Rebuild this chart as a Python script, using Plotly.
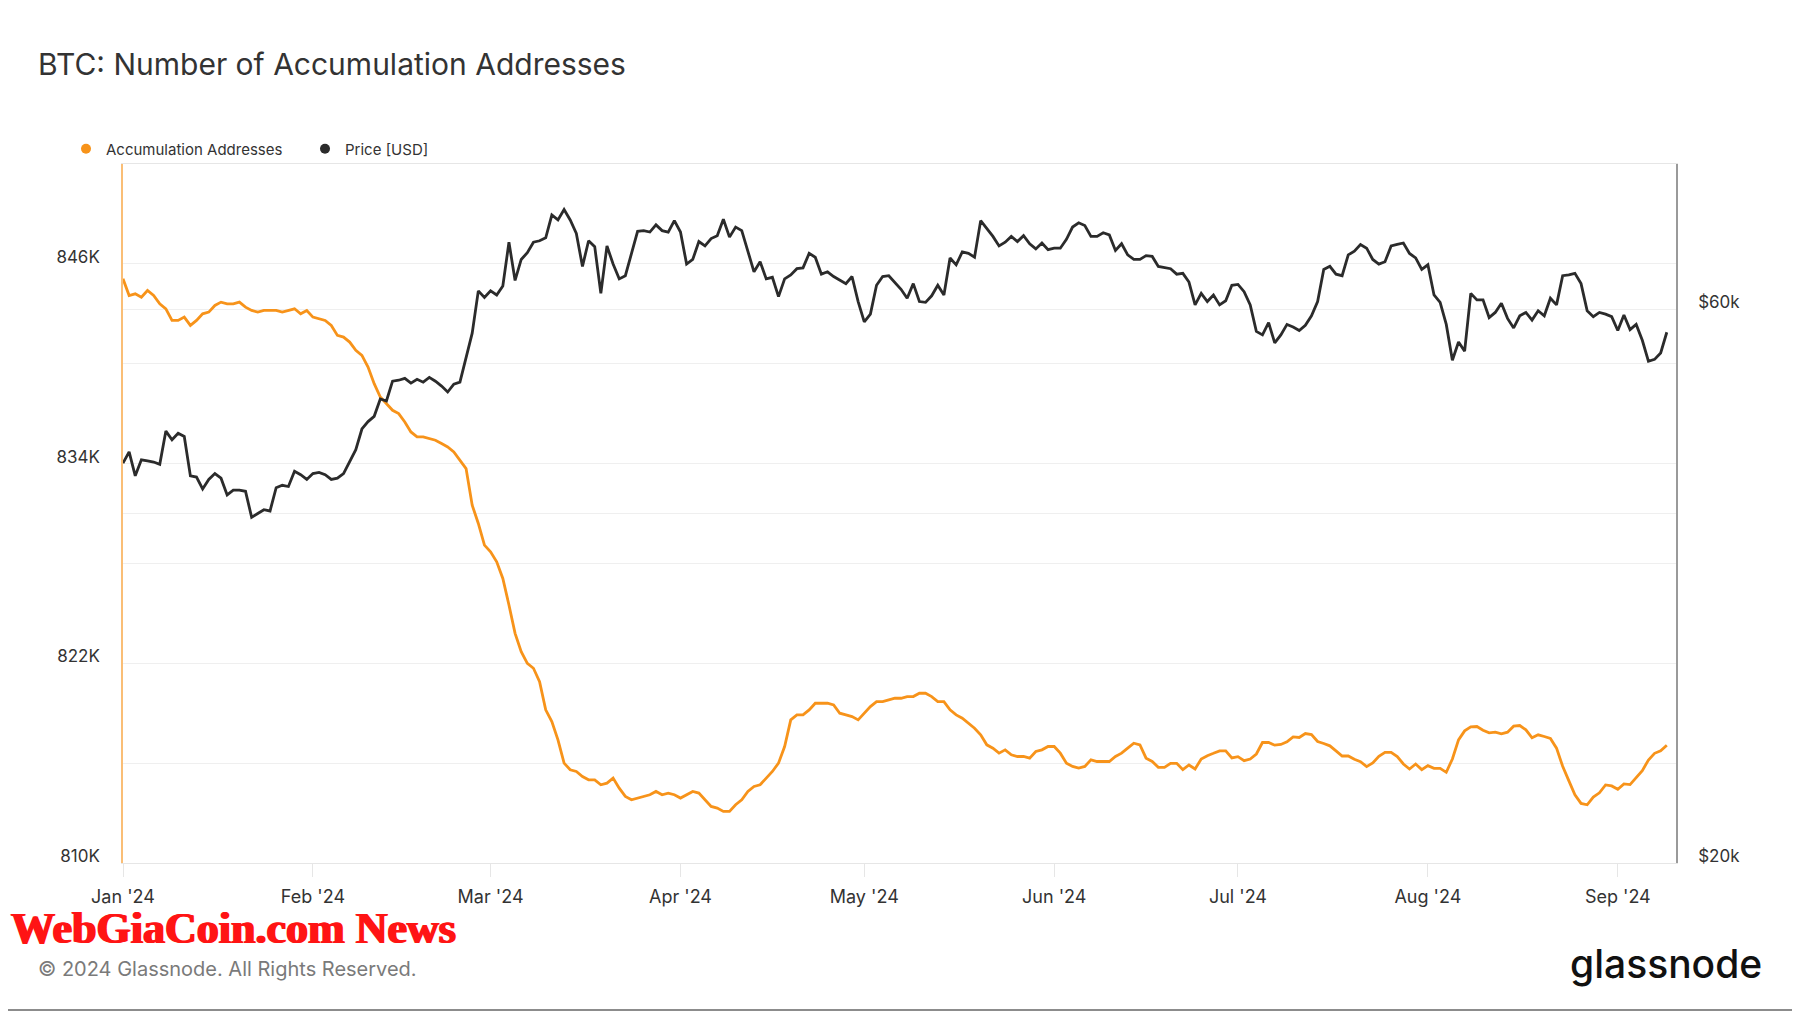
import math
import pandas as pd
import plotly.graph_objects as go

# ---------------- data (daily, starting 2024-01-01) ----------------
start_date = "2024-01-01"

# Number of accumulation addresses, in thousands
accumulation_addresses_k = [
    845.1, 844.1, 844.2, 844.0, 844.4, 844.1, 843.6, 843.3, 842.6, 842.6,
    842.8, 842.3, 842.6, 843.0, 843.1, 843.5, 843.7, 843.6, 843.6, 843.7,
    843.4, 843.2, 843.1, 843.2, 843.2, 843.2, 843.1, 843.2, 843.3, 843.0,
    843.2, 842.8, 842.7, 842.6, 842.3, 841.7, 841.6, 841.3, 840.8, 840.5,
    839.8, 838.8, 838.0, 837.6, 837.2, 837.0, 836.5, 835.9, 835.6, 835.6,
    835.5, 835.4, 835.2, 835.0, 834.7, 834.2, 833.7, 831.5, 830.4, 829.1,
    828.7, 828.1, 827.1, 825.5, 823.8, 822.7, 822.0, 821.7, 820.9, 819.2,
    818.5, 817.4, 816.0, 815.6, 815.5, 815.2, 815.0, 815.0, 814.7, 814.8,
    815.1, 814.5, 814.0, 813.8, 813.9, 814.0, 814.1, 814.3, 814.1, 814.2,
    814.1, 813.9, 814.1, 814.3, 814.2, 813.8, 813.4, 813.3, 813.1, 813.1,
    813.5, 813.8, 814.3, 814.6, 814.7, 815.1, 815.5, 816.0, 817.0, 818.6,
    818.9, 818.9, 819.2, 819.6, 819.6, 819.6, 819.5, 819.0, 818.9, 818.8,
    818.6, 819.0, 819.4, 819.7, 819.7, 819.8, 819.9, 819.9, 820.0, 820.0,
    820.2, 820.2, 820.0, 819.7, 819.7, 819.2, 818.9, 818.7, 818.4, 818.1,
    817.7, 817.1, 816.9, 816.6, 816.8, 816.5, 816.4, 816.4, 816.3, 816.7,
    816.8, 817.0, 817.0, 816.6, 816.0, 815.8, 815.7, 815.8, 816.2, 816.1,
    816.1, 816.1, 816.4, 816.6, 816.9, 817.2, 817.1, 816.3, 816.1,
    815.75, 815.75, 815.99, 815.99, 815.61, 815.89, 815.65, 816.25, 816.45, 816.59,
    816.74, 816.74, 816.31, 816.39, 816.15, 816.25, 816.55, 817.24, 817.24, 817.08,
    817.12, 817.28, 817.58, 817.54, 817.78, 817.72, 817.30, 817.18, 817.04, 816.74,
    816.43, 816.43, 816.23, 816.09, 815.79, 816.01, 816.41, 816.65, 816.65, 816.39,
    815.95, 815.65, 815.95, 815.61, 815.85, 815.69, 815.69, 815.45, 816.25, 817.40,
    817.94, 818.18, 818.20, 817.98, 817.82, 817.86, 817.76, 817.86, 818.22, 818.26,
    818.00, 817.52, 817.70, 817.60, 817.48, 816.90, 815.81, 814.95, 814.10, 813.58,
    813.50, 813.96, 814.22, 814.69, 814.63, 814.43, 814.75, 814.71, 815.15, 815.55,
    816.19, 816.59, 816.74, 817.08,
]

# BTC price, in thousands of USD
price_usd_k = [
    44.2, 45.2, 43.1, 44.5, 44.4, 44.3, 44.1, 47.1, 46.3, 46.9,
    46.6, 43.1, 43.0, 42.0, 42.8, 43.3, 42.9, 41.5, 41.9, 41.9,
    41.8, 39.7, 40.0, 40.3, 40.2, 42.1, 42.3, 42.2, 43.5, 43.2,
    42.8, 43.3, 43.4, 43.2, 42.8, 42.9, 43.3, 44.4, 45.4, 47.3,
    48.0, 48.5, 50.2, 50.0, 52.0, 52.1, 52.3, 51.8, 52.2, 51.9,
    52.4, 52.0, 51.5, 50.9, 51.7, 51.9, 54.6, 57.2, 62.2, 61.4,
    62.2, 61.7, 62.8, 68.5, 63.5, 66.2, 67.1, 68.5, 68.7, 69.1,
    72.3, 71.6, 73.1, 71.6, 69.7, 65.3, 68.7, 67.9, 61.9, 68.0,
    65.6, 63.7, 64.1, 67.0, 70.0, 70.1, 69.9, 70.9, 70.1, 69.9,
    71.5, 69.9, 65.6, 66.2, 68.6, 68.0, 69.0, 69.4, 71.7, 69.2,
    70.6, 70.1, 67.4, 64.6, 65.9, 63.7, 63.9, 61.5, 63.7, 64.2,
    65.0, 65.1, 67.0, 66.5, 64.3, 64.6, 64.0, 63.6, 63.1, 64.0,
    60.9, 58.5, 59.4, 62.9, 64.0, 64.1, 63.2, 62.4, 61.3, 63.1,
    60.9, 60.8, 61.6, 62.9, 61.7, 66.4, 65.5, 67.2, 67.0, 66.5,
    71.5, 70.4, 69.3, 68.0, 68.5, 69.3, 68.6, 69.4, 68.3, 67.6,
    68.4, 67.5, 67.7, 67.7, 68.9, 70.6, 71.2, 70.8, 69.3, 69.3,
    69.8, 69.5, 67.4, 68.3, 66.8, 66.2, 66.2, 66.7, 66.6,
    65.3, 65.1, 65.0, 64.3, 64.4, 63.3, 60.5, 61.9, 60.9, 61.7,
    60.5, 61.0, 62.9, 63.0, 62.1, 60.5, 57.4, 57.0, 58.4, 56.1,
    57.0, 58.2, 57.9, 57.5, 58.1, 59.2, 60.9, 64.9, 65.3, 64.3,
    64.1, 66.8, 67.3, 68.2, 67.7, 66.2, 65.6, 65.9, 68.0, 68.2,
    68.4, 67.0, 66.4, 64.9, 65.5, 61.7, 60.8, 58.2, 54.2, 56.2,
    55.2, 61.9, 61.1, 61.1, 59.0, 59.6, 60.7, 58.9, 57.8, 59.2,
    59.6, 58.7, 59.8, 59.2, 61.3, 60.5, 64.1, 64.2, 64.4, 63.1,
    59.8, 59.1, 59.6, 59.4, 59.1, 57.5, 59.3, 57.6, 58.2, 56.4,
    54.1, 54.3, 55.0, 57.3,
]

left_tick_values = [810000, 816000, 822000, 828000, 834000, 840000, 846000, 852000]
left_tick_labels = ["810K", "", "822K", "", "834K", "", "846K", ""]
right_tick_values = [20000, 40000, 60000, 80000]
right_tick_labels = ["$20k", "", "$60k", ""]
x_range = ["2024-01-01", "2024-09-10 12:00"]

# ---------------- build ----------------
dates = pd.date_range(start_date, periods=len(accumulation_addresses_k), freq="D")
acc = [v * 1000 for v in accumulation_addresses_k]
price = [v * 1000 for v in price_usd_k]

ORANGE = "#f7931a"
DARK = "#2b2b2b"
PAGE_OFF = 8                      # default body margin of the html page
W, H = 1800 - PAGE_OFF, 1013 - PAGE_OFF
L, R, T, B = 115, 124, 156, 150
PW, PH = W - L - R, H - T - B


def px(x_page):
    return (x_page - PAGE_OFF - L) / PW


def py(y_page):
    return (H - B - (y_page - PAGE_OFF)) / PH


fig = go.Figure()
fig.add_trace(go.Scatter(x=dates, y=acc, mode="lines", name="Accumulation Addresses",
                         line=dict(color=ORANGE, width=2.8), showlegend=False, yaxis="y"))
fig.add_trace(go.Scatter(x=dates, y=price, mode="lines", name="Price [USD]",
                         line=dict(color=DARK, width=2.8), showlegend=False, yaxis="y2"))
# legend entries shown as dots
fig.add_trace(go.Scatter(x=[None], y=[None], mode="markers", name="Accumulation Addresses",
                         marker=dict(color=ORANGE, size=10), yaxis="y"))
fig.add_trace(go.Scatter(x=[None], y=[None], mode="markers", name="Price [USD]",
                         marker=dict(color=DARK, size=10), yaxis="y2"))

fig.update_layout(
    width=W, height=H,
    margin=dict(l=L, r=R, t=T, b=B, pad=0),
    paper_bgcolor="white", plot_bgcolor="white",
    font=dict(family="Inter", color="#333333", size=16),
    title=dict(text="BTC: Number of Accumulation Addresses", x=(38 - PAGE_OFF) / W, xref="container",
               xanchor="left", y=1 - (64 - PAGE_OFF) / H, yref="container", yanchor="middle",
               font=dict(size=30, color="#333333", family="Inter")),
    legend=dict(orientation="h", x=px(66), y=py(149), xanchor="left", yanchor="middle",
                font=dict(size=15, color="#333333"), entrywidth=194, entrywidthmode="pixels",
                bgcolor="rgba(0,0,0,0)"),
    xaxis=dict(type="date", range=x_range, tick0="2024-01-01", dtick="M1",
               tickformat="%b '%y", ticks="outside", ticklen=13, tickcolor="#e6e6e6",
               showgrid=False, showline=True, linecolor="#e6e6e6", linewidth=1, mirror=True,
               tickfont=dict(size=18, color="#333333"), ticklabelstandoff=4, zeroline=False),
    yaxis=dict(range=[810000, 852000], tickvals=left_tick_values, ticktext=left_tick_labels,
               showgrid=True, gridcolor="#efefef", gridwidth=1, zeroline=False,
               showline=True, linecolor="rgba(247,147,26,0.6)", linewidth=1.5,
               ticks="", tickfont=dict(size=17, color="#333333"), ticklabelstandoff=18,
               ticklabelposition="outside top", ticklabelshift=5),
    yaxis2=dict(overlaying="y", side="right", type="log",
                range=[math.log10(20000), math.log10(80000)],
                tickvals=right_tick_values, ticktext=right_tick_labels,
                showgrid=True, gridcolor="#efefef", gridwidth=1, zeroline=False,
                showline=True, linecolor="#9a9a9a", linewidth=1.5,
                ticks="", tickfont=dict(size=17, color="#333333"), ticklabelstandoff=17,
                ticklabelposition="outside top", ticklabelshift=5),
    annotations=[
        dict(text="WebGiaCoin.com News", xref="paper", yref="paper", x=px(9), y=py(929),
             xanchor="left", yanchor="middle", showarrow=False,
             font=dict(family="Liberation Serif", size=44, color="#ff1414", weight="bold",
                       shadow="1px 0 0 #ff1414, -1px 0 0 #ff1414")),
        dict(text="© 2024 Glassnode. All Rights Reserved.", xref="paper", yref="paper",
             x=px(36), y=py(969), xanchor="left", yanchor="middle", showarrow=False,
             font=dict(family="Inter", size=20, color="#7a7a7a")),
        dict(text="glassnode", xref="paper", yref="paper", x=px(1764), y=py(964),
             xanchor="right", yanchor="middle", showarrow=False,
             font=dict(family="Inter", size=39, color="#111111", weight=500)),
    ],
    shapes=[
        dict(type="line", xref="paper", yref="paper", x0=px(0), x1=px(1800), y0=py(1010), y1=py(1010),
             line=dict(color="#8c8c8c", width=2)),
    ],
)

fig.write_html("out.html")
